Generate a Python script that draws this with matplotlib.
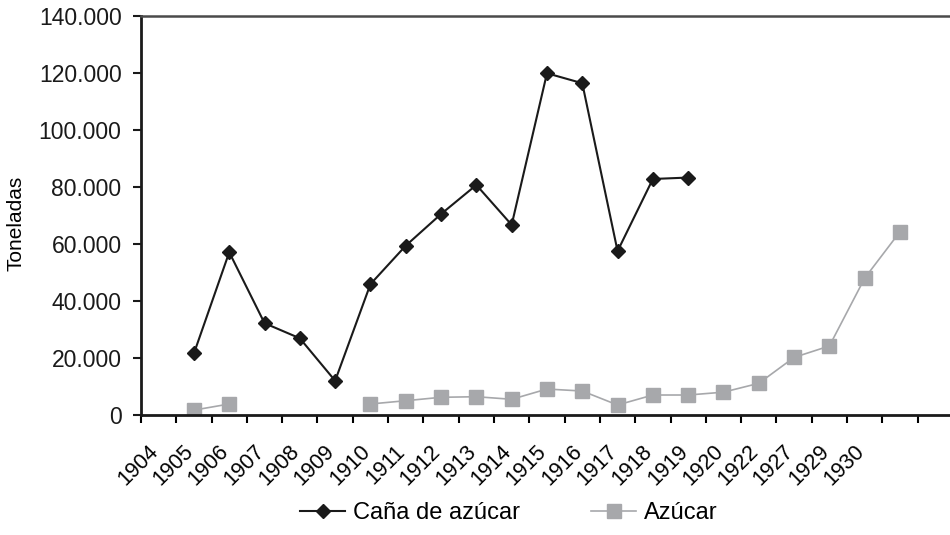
import matplotlib.pyplot as plt
from matplotlib.ticker import FuncFormatter
from matplotlib.transforms import ScaledTranslation

plt.rcParams['font.family'] = ['Liberation Sans', 'DejaVu Sans']

# etiquetas del eje x (las dos ultimas categorias quedan sin etiqueta)
years = ['1904', '1905', '1906', '1907', '1908', '1909', '1910', '1911', '1912',
         '1913', '1914', '1915', '1916', '1917', '1918', '1919', '1920', '1922',
         '1927', '1929', '1930', '', '']

# Caña de azúcar: categorias 1..15
cana_idx = list(range(1, 16))
cana = [21500, 57000, 32100, 26800, 11900, 45800, 59300, 70400, 80600, 66600,
        119800, 116300, 57400, 82700, 83200]

# Azúcar: categorias 1, 2 y 6..21 (hueco entre 2 y 6)
azucar_idx = [1, 2, 6, 7, 8, 9, 10, 11, 12, 13, 14, 15, 16, 17, 18, 19, 20, 21]
azucar = [1600, 3750, 3750, 4900, 6100, 6300, 5400, 9000, 8300, 3400, 6900,
          6900, 7900, 11000, 20100, 24100, 47900, 64200]

fig = plt.figure(figsize=(9.5, 5.35), dpi=100)
ax = fig.add_axes([0.1484, 0.2249, 0.8547, 0.7458])

# dibujar Azúcar en dos tramos para dejar el hueco
ax.plot(azucar_idx[:2], azucar[:2], color='#a7a8ab', lw=1.2, marker='s',
        markersize=9.5, markerfacecolor='#a7a8ab', markeredgecolor='#a7a8ab')
ax.plot(azucar_idx[2:], azucar[2:], color='#a7a8ab', lw=1.2, marker='s',
        markersize=9.5, markerfacecolor='#a7a8ab', markeredgecolor='#a7a8ab',
        label='Azúcar')
ax.plot(cana_idx, cana, color='#1a1a1a', lw=1.5, marker='D', markersize=6.8,
        markerfacecolor='#1a1a1a', markeredgecolor='#1a1a1a', label='Caña de azúcar')

ax.set_xlim(-0.5, len(years) - 0.5)
ax.set_ylim(0, 140000)

ax.set_yticks(range(0, 140001, 20000))
ax.yaxis.set_major_formatter(FuncFormatter(lambda v, p: f"{int(v):,}".replace(',', '.')))
ax.tick_params(axis='y', direction='out', length=6, width=1.5, labelsize=16.5,
               pad=8, colors='#1a1a1a')

ax.set_xticks([k - 0.5 for k in range(len(years) + 1)])
ax.set_xticklabels([])
ax.set_xticks(range(len(years)), minor=True)
ax.set_xticklabels(years, minor=True, rotation=45, ha='right')
ax.tick_params(axis='x', which='major', direction='out', length=6, width=1.5)
ax.tick_params(axis='x', which='minor', length=0, labelsize=15.5, pad=19)
shift = ScaledTranslation(4 / 100, 0, fig.dpi_scale_trans)
for lab in ax.get_xticklabels(minor=True):
    lab.set_transform(lab.get_transform() + shift)

ax.set_ylabel('Toneladas', fontsize=15)
ax.yaxis.set_label_coords(-0.142, 0.48)

for s in ['left', 'bottom']:
    ax.spines[s].set_linewidth(2)
    ax.spines[s].set_color('#1a1a1a')
ax.spines['top'].set_linewidth(1.8)
ax.spines['top'].set_color('#4a4a4a')
ax.spines['right'].set_visible(False)

h, l = ax.get_legend_handles_labels()
fig.legend(h[::-1], l[::-1], loc='center', bbox_to_anchor=(0.536, 0.041), ncol=2,
           frameon=False, fontsize=17, handlelength=1.9, handletextpad=0.35,
           columnspacing=3.0)

fig.savefig('out.png', dpi=100)
